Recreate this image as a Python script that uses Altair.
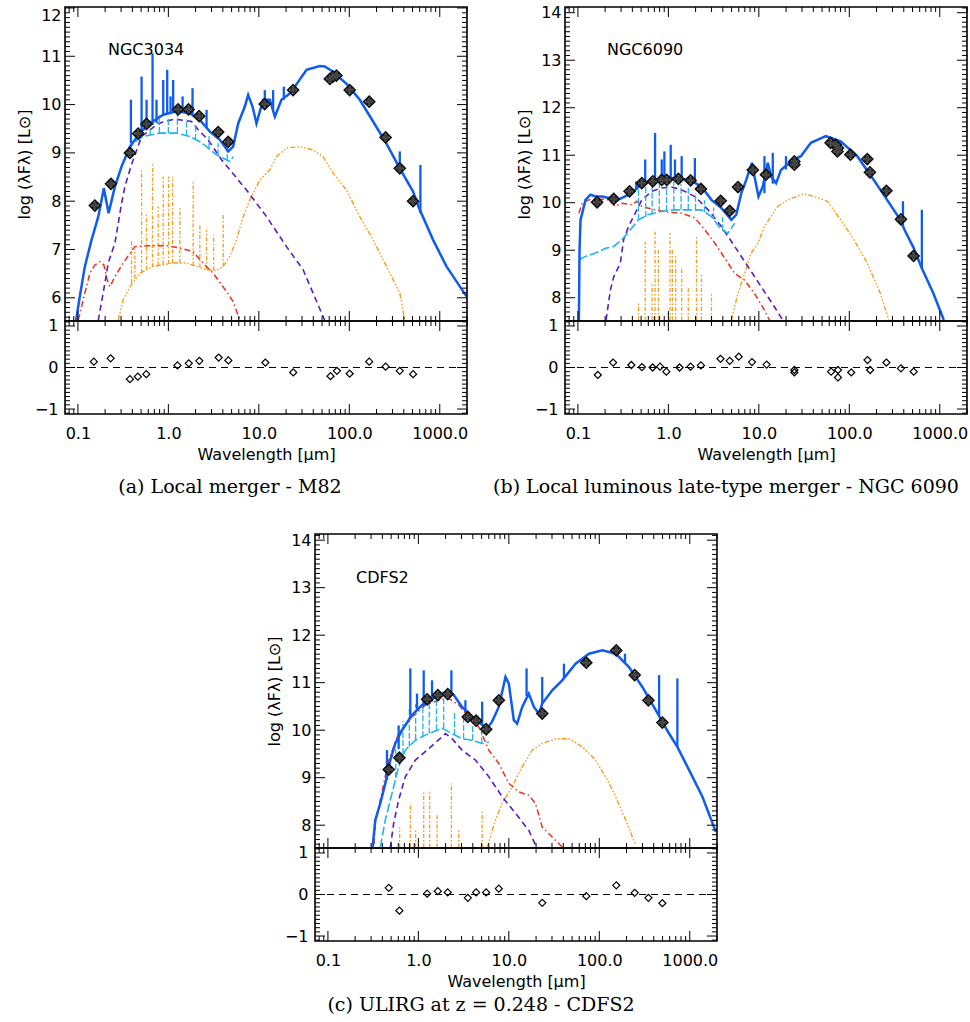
import math
import altair as alt
import pandas as pd

# ------------------------------------------------------------------
# Shared axis settings
# ------------------------------------------------------------------
XDOM = [0.072, 2000.0]
RDOM = [-1.12, 1.12]
X_MAJOR = [0.1, 1.0, 10.0, 100.0, 1000.0]
X_MINOR = [m * d for d in (0.01, 0.1, 1, 10, 100, 1000) for m in range(2, 10)
           if XDOM[0] <= m * d <= XDOM[1]]
YTITLE = "log (λFλ) [L⊙]"
XTITLE = "Wavelength [µm]"

# ------------------------------------------------------------------
# Panel (a) NGC3034 (M82)   -- curves: (log10 wavelength[um], log L)
# ------------------------------------------------------------------
A_NAME = "NGC3034"
A_CAPTION = "(a) Local merger - M82"
A_OBS_LAM = [0.154, 0.232, 0.376, 0.463, 0.574, 1.28, 1.67, 2.19, 3.55, 4.58,
             11.6, 23.9, 61, 66, 72, 101, 166, 252, 361, 507]
A_OBS_VAL = [7.91, 8.36, 9.00, 9.40, 9.60, 9.90, 9.90, 9.76, 9.43, 9.23,
             10.01, 10.30, 10.53, 10.58, 10.60, 10.30, 10.06, 9.32, 8.68, 8.00]
A_RES_LAM = [0.15, 0.23, 0.376, 0.46, 0.57, 1.26, 1.68, 2.2, 3.6, 4.6,
             11.8, 24, 62, 73, 101, 166, 252, 361, 507]
A_RES_VAL = [0.14, 0.22, -0.28, -0.22, -0.16, 0.05, 0.10, 0.16, 0.24, 0.17,
             0.12, -0.12, -0.21, -0.08, -0.15, 0.14, 0.02, -0.08, -0.16]
A_BLUE = [(-1.02, 5.53), (-0.985, 5.96), (-0.923, 6.65), (-0.849, 7.2), (-0.775, 7.68),
          (-0.713, 8.27), (-0.661, 7.75), (-0.591, 8.30), (-0.517, 8.72), (-0.425, 9.13),
          (-0.315, 9.41), (-0.204, 9.61), (-0.057, 9.79), (0.090, 9.86), (0.238, 9.82),
          (0.348, 9.68), (0.459, 9.44), (0.569, 9.27), (0.661, 9.03), (0.716, 9.13),
          (0.772, 9.61), (0.845, 9.96), (0.882, 10.2), (0.930, 9.96), (0.974, 9.61),
          (1.048, 10.10), (1.122, 10.10), (1.177, 9.75), (1.250, 10.10), (1.343, 10.23),
          (1.379, 10.32), (1.527, 10.72), (1.674, 10.80), (1.729, 10.79), (1.821, 10.68),
          (1.969, 10.43), (2.116, 10.10), (2.263, 9.65), (2.411, 9.19), (2.558, 8.68),
          (2.705, 8.20), (2.771, 7.86), (2.926, 7.20), (3.074, 6.65), (3.295, 6.03)]
A_BLUE_SPIKES = [(-0.414, 9.20, 10.10), (-0.296, 9.37, 10.58), (-0.241, 9.50, 10.10),
                 (-0.175, 9.58, 11.06), (-0.131, 9.62, 10.10), (-0.057, 9.79, 10.51),
                 (-0.013, 9.81, 10.72), (0.024, 9.82, 10.17), (0.053, 9.83, 10.51),
                 (0.157, 9.85, 10.17), (0.267, 9.80, 10.34), (0.422, 9.52, 9.89),
                 (1.066, 10.0, 10.30), (1.158, 9.9, 10.30), (1.276, 10.1, 10.37),
                 (2.558, 8.68, 9.03), (2.786, 7.75, 8.75)]
A_CYAN = [(-0.444, 9.03), (-0.389, 9.20), (-0.278, 9.34), (-0.094, 9.41), (0.090, 9.41),
          (0.238, 9.34), (0.348, 9.23), (0.422, 9.13), (0.532, 8.96), (0.680, 8.82),
          (0.716, 8.92)]
A_CYAN_SPIKES = [(-0.30, 9.34, 9.62), (-0.2, 9.38, 9.7), (-0.1, 9.41, 9.78), (0.0, 9.41, 9.75),
                 (0.1, 9.41, 9.8), (0.2, 9.36, 9.7), (0.3, 9.27, 9.6), (0.45, 9.1, 9.35),
                 (0.55, 8.95, 9.2), (0.65, 8.85, 9.15)]
A_PURPLE = [(-0.775, 5.53), (-0.702, 6.30), (-0.665, 6.72), (-0.591, 7.13), (-0.517, 7.96),
            (-0.481, 8.30), (-0.425, 8.65), (-0.389, 8.86), (-0.296, 9.34), (-0.112, 9.61),
            (0.072, 9.70), (0.256, 9.65), (0.330, 9.48), (0.440, 9.27), (0.587, 8.86),
            (0.680, 8.65), (0.864, 8.23), (1.085, 7.68), (1.306, 7.06), (1.490, 6.58),
            (1.729, 5.53)]
A_RED = [(-0.996, 5.54), (-0.923, 6.10), (-0.867, 6.51), (-0.812, 6.68), (-0.757, 6.75),
         (-0.713, 6.68), (-0.676, 6.37), (-0.646, 6.23), (-0.591, 6.44), (-0.499, 6.72),
         (-0.425, 6.92), (-0.370, 7.06), (-0.204, 7.08), (-0.020, 7.08), (0.127, 7.03),
         (0.274, 6.96), (0.348, 6.79), (0.495, 6.51), (0.643, 6.13), (0.716, 5.92),
         (0.790, 5.54)]
A_ORANGE = [(-0.554, 5.54), (-0.499, 5.96), (-0.425, 6.23), (-0.315, 6.51), (-0.168, 6.65),
            (0.053, 6.72), (0.201, 6.72), (0.311, 6.65), (0.422, 6.58), (0.532, 6.57),
            (0.606, 6.65), (0.680, 6.86), (0.753, 7.20), (0.827, 7.68), (0.901, 8.03),
            (1.011, 8.44), (1.122, 8.65), (1.195, 8.92), (1.306, 9.10), (1.453, 9.13),
            (1.600, 9.06), (1.711, 8.92), (1.821, 8.58), (1.969, 8.23), (2.116, 7.68),
            (2.263, 7.20), (2.411, 6.65), (2.558, 6.10), (2.613, 5.54)]
A_ORANGE_SPIKES = [(-0.407, 6.3, 7.2), (-0.37, 6.4, 7.0), (-0.296, 6.52, 8.68),
                   (-0.241, 6.58, 7.75), (-0.175, 6.64, 8.79), (-0.112, 6.67, 7.89),
                   (-0.057, 6.69, 8.51), (0.002, 6.7, 8.51), (0.046, 6.72, 8.51),
                   (0.127, 6.72, 7.89), (0.274, 6.67, 8.41), (0.348, 6.63, 7.54),
                   (0.422, 6.58, 7.41), (0.50, 6.57, 7.3), (0.606, 6.65, 7.72)]

# ------------------------------------------------------------------
# Panel (b) NGC6090
# ------------------------------------------------------------------
B_NAME = "NGC6090"
B_CAPTION = "(b) Local luminous late-type merger - NGC 6090"
B_OBS_LAM = [0.163, 0.249, 0.372, 0.509, 0.673, 0.845, 0.96, 1.29, 1.76, 2.29,
             3.79, 4.76, 5.88, 8.59, 12.0, 24.7, 24.7, 62, 71, 74, 75, 103, 158,
             169, 257, 372, 514]
B_OBS_VAL = [10.01, 10.08, 10.24, 10.41, 10.45, 10.48, 10.48, 10.50, 10.47, 10.29,
             10.04, 9.83, 10.33, 10.69, 10.59, 10.87, 10.80, 11.26, 11.22, 11.08, 11.15,
             11.01, 10.92, 10.64, 10.25, 9.65, 8.88]
B_RES_LAM = [0.166, 0.245, 0.39, 0.51, 0.67, 0.81, 0.95, 1.33, 1.76, 2.29, 3.77, 4.76,
             6.0, 8.4, 12.2, 24.7, 24.7, 63, 75, 75, 105, 159, 170, 257, 372, 515]
B_RES_VAL = [-0.18, 0.12, 0.06, 0.01, 0.0, 0.02, -0.10, 0.0, 0.02, 0.05, 0.21, 0.16,
             0.26, 0.13, 0.07, -0.06, -0.12, -0.10, -0.06, -0.24, -0.12, 0.18, -0.06,
             0.12, -0.02, -0.10]
B_BLUE = [(-0.989, 7.53), (-0.982, 9.01), (-0.971, 9.64), (-0.952, 9.78), (-0.916, 10.06),
          (-0.861, 10.17), (-0.806, 10.13), (-0.733, 10.13), (-0.659, 10.10), (-0.593, 10.03),
          (-0.513, 10.10), (-0.440, 10.17), (-0.366, 10.27), (-0.293, 10.40), (-0.183, 10.47),
          (-0.037, 10.52), (0.110, 10.52), (0.256, 10.46), (0.366, 10.34), (0.476, 10.06),
          (0.586, 9.89), (0.696, 9.64), (0.751, 9.75), (0.806, 10.20), (0.861, 10.48),
          (0.923, 10.84), (0.952, 10.55), (0.996, 10.13), (1.044, 10.34), (1.099, 10.84),
          (1.136, 10.55), (1.191, 10.41), (1.245, 10.69), (1.355, 10.87), (1.465, 10.98),
          (1.575, 11.26), (1.740, 11.40), (1.905, 11.29), (2.088, 10.98), (2.271, 10.48),
          (2.418, 10.06), (2.564, 9.64), (2.610, 9.43), (2.711, 9.05), (2.802, 8.62),
          (2.930, 8.09), (3.045, 7.53)]
B_BLUE_SPIKES = [(-0.355, 10.27, 10.45), (-0.256, 10.38, 10.91), (-0.147, 10.45, 11.47),
                 (-0.073, 10.50, 10.91), (-0.044, 10.50, 11.08), (0.026, 10.52, 11.22),
                 (0.073, 10.52, 10.91), (0.147, 10.51, 10.98), (0.293, 10.42, 10.94),
                 (1.062, 10.2, 10.98), (1.154, 10.4, 11.05), (1.300, 10.7, 10.98),
                 (2.593, 9.50, 10.03), (2.802, 8.62, 9.85)]
B_CYAN = [(-0.989, 8.80), (-0.916, 8.87), (-0.806, 8.94), (-0.696, 9.04), (-0.604, 9.08),
          (-0.513, 9.22), (-0.421, 9.43), (-0.330, 9.64), (-0.220, 9.75), (-0.073, 9.82),
          (0.073, 9.85), (0.220, 9.85), (0.366, 9.85), (0.476, 9.71), (0.586, 9.43),
          (0.659, 9.36), (0.733, 9.57)]
B_CYAN_SPIKES = [(-0.33, 9.64, 10.45), (-0.25, 9.70, 10.35), (-0.18, 9.75, 10.45),
                 (-0.10, 9.8, 10.4), (-0.02, 9.82, 10.45), (0.06, 9.85, 10.45),
                 (0.14, 9.85, 10.40), (0.22, 9.85, 10.35), (0.30, 9.85, 10.2),
                 (0.40, 9.80, 10.05), (0.5, 9.65, 9.9), (0.6, 9.42, 9.7)]
B_PURPLE = [(-0.689, 7.53), (-0.641, 8.16), (-0.604, 8.44), (-0.568, 8.58), (-0.531, 8.73),
            (-0.495, 9.22), (-0.440, 9.50), (-0.385, 9.71), (-0.293, 10.06), (-0.183, 10.24),
            (-0.073, 10.31), (0.037, 10.33), (0.147, 10.27), (0.293, 10.13), (0.440, 9.85),
            (0.586, 9.50), (0.733, 9.08), (0.879, 8.66), (1.026, 8.23), (1.172, 7.81),
            (1.264, 7.53)]
B_RED = [(-0.989, 9.78), (-0.952, 9.99), (-0.879, 10.06), (-0.769, 10.08), (-0.659, 10.06),
         (-0.586, 9.92), (-0.513, 9.99), (-0.403, 9.96), (-0.348, 10.03), (-0.293, 9.92),
         (-0.147, 9.85), (0.0, 9.80), (0.147, 9.78), (0.293, 9.68), (0.403, 9.43),
         (0.513, 9.15), (0.659, 8.73), (0.733, 8.51), (0.842, 8.37), (0.952, 8.09),
         (1.062, 7.74), (1.117, 7.53)]
B_ORANGE = [(0.696, 7.53), (0.769, 8.09), (0.842, 8.51), (0.916, 8.94), (0.989, 9.15),
            (1.062, 9.50), (1.136, 9.71), (1.209, 9.92), (1.319, 10.06), (1.502, 10.19),
            (1.612, 10.13), (1.758, 10.03), (1.905, 9.64), (2.051, 9.22), (2.198, 8.73),
            (2.344, 8.09), (2.436, 7.53)]
B_ORANGE_SPIKES = [(-0.33, 7.52, 7.9), (-0.256, 7.52, 9.18), (-0.18, 7.52, 8.3),
                   (-0.147, 7.52, 9.39), (-0.110, 7.52, 9.0), (0.018, 7.52, 9.36),
                   (0.044, 7.52, 9.0), (0.081, 7.52, 8.9), (0.147, 7.52, 8.6),
                   (0.22, 7.52, 8.2), (0.311, 7.52, 9.29), (0.366, 7.52, 8.5),
                   (0.476, 7.52, 8.1)]

# ------------------------------------------------------------------
# Panel (c) CDFS2
# ------------------------------------------------------------------
C_NAME = "CDFS2"
C_CAPTION = "(c) ULIRG at z = 0.248 - CDFS2"
C_OBS_LAM = [0.470, 0.617, 1.25, 1.64, 2.11, 3.52, 4.35, 5.61, 7.75, 23.4, 71.8,
             154, 246, 349, 498]
C_OBS_VAL = [9.17, 9.42, 10.65, 10.74, 10.76, 10.28, 10.20, 10.02, 10.63, 10.35,
             11.42, 11.68, 11.16, 10.63, 10.16]
C_RES_LAM = [0.470, 0.617, 1.25, 1.64, 2.11, 3.52, 4.35, 5.61, 7.75, 23.4, 71.8,
             154, 246, 349, 498]
C_RES_VAL = [0.16, -0.39, 0.02, 0.08, 0.05, -0.08, 0.05, 0.05, 0.14, -0.20, -0.04,
             0.22, 0.04, -0.08, -0.21]
C_BLUE = [(-0.506, 7.53), (-0.476, 8.11), (-0.421, 8.46), (-0.365, 8.88), (-0.310, 9.37),
          (-0.255, 9.72), (-0.181, 10.0), (-0.070, 10.32), (0.041, 10.53), (0.188, 10.70),
          (0.317, 10.81), (0.391, 10.74), (0.483, 10.49), (0.594, 10.28), (0.686, 10.14),
          (0.760, 10.04), (0.815, 10.18), (0.889, 10.49), (0.963, 11.12), (1.0, 10.98),
          (1.055, 10.21), (1.092, 10.14), (1.148, 10.49), (1.221, 10.77), (1.277, 10.49),
          (1.332, 10.35), (1.369, 10.56), (1.480, 10.84), (1.590, 11.05), (1.738, 11.40),
          (1.886, 11.61), (2.033, 11.68), (2.181, 11.61), (2.328, 11.33), (2.476, 10.91),
          (2.624, 10.42), (2.771, 9.93), (2.863, 9.65), (2.993, 9.16), (3.140, 8.60),
          (3.288, 7.86)]
C_BLUE_SPIKES = [(-0.347, 8.95, 9.58), (-0.218, 9.6, 10.1), (-0.089, 10.25, 11.30),
                 (-0.015, 10.4, 10.77), (0.059, 10.5, 11.26), (0.151, 10.6, 11.05),
                 (0.365, 10.72, 11.26), (0.520, 10.38, 10.63), (0.705, 10.1, 10.60),
                 (1.196, 10.72, 11.30), (1.369, 10.56, 11.12), (1.609, 11.08, 11.40),
                 (2.284, 11.40, 11.61), (2.661, 10.30, 11.16), (2.863, 9.65, 11.09)]
C_CYAN = [(-0.421, 7.53), (-0.365, 8.11), (-0.292, 8.67), (-0.218, 9.23), (-0.144, 9.58),
          (-0.033, 9.79), (0.114, 9.93), (0.262, 10.04), (0.373, 9.93), (0.483, 9.82),
          (0.594, 9.79), (0.705, 9.72), (0.779, 9.75)]
C_CYAN_SPIKES = [(-0.25, 9.0, 9.6), (-0.17, 9.5, 10.2), (-0.1, 9.65, 10.5), (-0.03, 9.8, 10.55),
                 (0.05, 9.85, 10.6), (0.12, 9.93, 10.7), (0.2, 10.0, 10.65), (0.28, 10.04, 10.7),
                 (0.4, 9.9, 10.4), (0.5, 9.82, 10.3), (0.6, 9.79, 10.1), (0.7, 9.72, 10.0)]
C_PURPLE = [(-0.310, 7.53), (-0.273, 8.04), (-0.218, 8.53), (-0.144, 9.02), (-0.033, 9.37),
            (0.114, 9.61), (0.262, 9.86), (0.299, 9.93), (0.373, 9.82), (0.483, 9.58),
            (0.631, 9.37), (0.779, 9.02), (0.926, 8.60), (1.074, 8.25), (1.221, 7.89),
            (1.295, 7.58)]
C_RED = [(-0.49, 7.6), (-0.476, 8.04), (-0.421, 8.53), (-0.328, 9.37), (-0.218, 9.93),
         (-0.070, 10.28), (0.077, 10.53), (0.225, 10.63), (0.336, 10.67), (0.446, 10.53),
         (0.557, 10.28), (0.668, 10.07), (0.779, 9.58), (0.889, 9.30), (1.0, 8.88),
         (1.111, 8.70), (1.221, 8.63), (1.295, 8.46), (1.369, 7.96), (1.480, 7.75),
         (1.590, 7.54)]
C_ORANGE = [(0.760, 7.53), (0.852, 8.11), (0.926, 8.46), (1.037, 8.81), (1.148, 9.23),
            (1.258, 9.58), (1.369, 9.72), (1.517, 9.82), (1.664, 9.82), (1.812, 9.65),
            (1.959, 9.37), (2.070, 9.02), (2.181, 8.60), (2.292, 8.11), (2.402, 7.58)]
C_ORANGE_SPIKES = [(-0.207, 7.53, 7.96), (-0.089, 7.53, 8.46), (-0.03, 7.53, 7.9),
                   (0.059, 7.53, 8.70), (0.125, 7.53, 8.74), (0.207, 7.53, 8.21),
                   (0.365, 7.53, 8.88), (0.446, 7.53, 7.9), (0.705, 7.53, 8.32)]

# ------------------------------------------------------------------
# Layout (pixel boxes of each panel) and styles
# ------------------------------------------------------------------
W_ALL, H_ALL = 970, 1022
PA = dict(x0=65, x1=467, top=7, mid=321, bot=414, ydom=[5.52, 12.02],
          ymaj=[6, 7, 8, 9, 10, 11, 12], name_xy=(108, 50), cap_xy=(230, 487))
PB = dict(x0=565, x1=967, top=7, mid=321, bot=414, ydom=[7.51, 14.12],
          ymaj=[8, 9, 10, 11, 12, 13, 14], name_xy=(607, 50), cap_xy=(726, 487))
PC = dict(x0=315, x1=717, top=534, mid=848, bot=941, ydom=[7.52, 14.13],
          ymaj=[8, 9, 10, 11, 12, 13, 14], name_xy=(356, 578), cap_xy=(481, 1005))

BLUE = "#0f5cf2"
CYAN = "#1eb4ef"
PURPLE = "#5a1cc4"
RED = "#f0301e"
ORANGE = "#ff9a14"
AXF = "DejaVu Sans"
SERIF = "DejaVu Serif"
FS = 16


def xsc(P):
    return alt.Scale(type="log", domain=XDOM, range=[P["x0"], P["x1"]], nice=False)


def ysc(P):
    return alt.Scale(type="linear", domain=P["ydom"], range=[P["mid"], P["top"]],
                     nice=False, zero=False)


def rsc(P):
    return alt.Scale(type="linear", domain=RDOM, range=[P["bot"], P["mid"]],
                     nice=False, zero=False)


def curve(P, pts, color, width, dash=None):
    df = pd.DataFrame({"lam": [10 ** p[0] for p in pts], "v": [p[1] for p in pts],
                       "o": list(range(len(pts)))})
    kw = dict(color=color, strokeWidth=width)
    if dash:
        kw["strokeDash"] = dash
    return alt.Chart(df).mark_line(**kw).encode(
        x=alt.X("lam:Q", scale=xsc(P), axis=None),
        y=alt.Y("v:Q", scale=ysc(P), axis=None),
        order="o:Q")


def spikes(P, sp, color, width, dash=None):
    df = pd.DataFrame({"lam": [10 ** s[0] for s in sp], "v": [s[1] for s in sp],
                       "v2": [s[2] for s in sp]})
    kw = dict(color=color, strokeWidth=width)
    if dash:
        kw["strokeDash"] = dash
    return alt.Chart(df).mark_rule(**kw).encode(
        x=alt.X("lam:Q", scale=xsc(P), axis=None),
        y=alt.Y("v:Q", scale=ysc(P), axis=None),
        y2="v2:Q")


def xticks(P, vals, y0, length):
    df = pd.DataFrame({"t": vals})
    return alt.Chart(df).mark_rule(color="black", strokeWidth=1).encode(
        x=alt.X("t:Q", scale=xsc(P), axis=None),
        y=alt.value(y0), y2=alt.value(y0 + length))


def yticks(P, vals, scale, x0, length):
    df = pd.DataFrame({"t": vals})
    return alt.Chart(df).mark_rule(color="black", strokeWidth=1).encode(
        y=alt.Y("t:Q", scale=scale, axis=None),
        x=alt.value(x0), x2=alt.value(x0 + length))


def minor_between(lo, hi):
    return [v / 10 for v in range(math.ceil(lo * 10), math.floor(hi * 10) + 1) if v % 10 != 0]


def panel(P, name, caption, obs_lam, obs_val, res_lam, res_val,
          blue, blue_sp, cyan, cyan_sp, purple, red, orange, orange_sp):
    L = []
    # model components
    L.append(curve(P, orange, ORANGE, 1.4, [5, 2, 1.5, 2, 1.5, 2, 1.5, 2]))
    L.append(spikes(P, orange_sp, ORANGE, 1.3, [4, 2, 1.5, 2]))
    L.append(curve(P, red, RED, 1.5, [6, 3, 1.5, 3]))
    L.append(curve(P, purple, PURPLE, 1.6, [6, 4]))
    L.append(curve(P, cyan, CYAN, 1.6, [9, 3]))
    L.append(spikes(P, cyan_sp, CYAN, 1.3, [6, 2]))
    L.append(curve(P, blue, BLUE, 2.5))
    L.append(spikes(P, blue_sp, BLUE, 2.3))

    # observed photometry
    obs = pd.DataFrame({"lam": obs_lam, "v": obs_val})
    ob = alt.Chart(obs).encode(x=alt.X("lam:Q", scale=xsc(P), axis=None),
                               y=alt.Y("v:Q", scale=ysc(P), axis=None))
    L.append(ob.mark_point(shape="diamond", filled=False, color="#111111", strokeWidth=1.8,
                           size=115, opacity=1))
    L.append(ob.mark_point(shape="cross", filled=True, color="#111111", size=70, angle=45,
                           opacity=1))
    L.append(ob.mark_point(shape="cross", filled=True, color="#444444", size=55, opacity=1))

    # residuals
    res = pd.DataFrame({"lam": res_lam, "r": res_val})
    L.append(alt.Chart(res).mark_point(shape="diamond", filled=False, color="black",
                                       strokeWidth=1.2, size=50, opacity=1).encode(
        x=alt.X("lam:Q", scale=xsc(P), axis=None),
        y=alt.Y("r:Q", scale=rsc(P), axis=None)))
    zero = pd.DataFrame({"xa": [XDOM[0]], "xb": [XDOM[1]], "z": [0.0]})
    L.append(alt.Chart(zero).mark_rule(color="black", strokeDash=[7, 5], strokeWidth=1.2).encode(
        x=alt.X("xa:Q", scale=xsc(P), axis=None), x2="xb:Q",
        y=alt.Y("z:Q", scale=rsc(P), axis=None)))

    # inward tick marks (IDL style) on all sides of both boxes
    for ytop, ybot in ((P["top"], P["mid"]), (P["mid"], P["bot"])):
        L.append(xticks(P, X_MAJOR, ytop, 10))
        L.append(xticks(P, X_MINOR, ytop, 5))
        L.append(xticks(P, X_MAJOR, ybot, -10))
        L.append(xticks(P, X_MINOR, ybot, -5))
    ymin = minor_between(*P["ydom"])
    rmaj = [-1, 0, 1]
    rmin = minor_between(*RDOM)
    for sc, maj, mnr in ((ysc(P), P["ymaj"], ymin), (rsc(P), rmaj, rmin)):
        L.append(yticks(P, maj, sc, P["x0"], 10))
        L.append(yticks(P, mnr, sc, P["x0"], 5))
        L.append(yticks(P, maj, sc, P["x1"], -10))
        L.append(yticks(P, mnr, sc, P["x1"], -5))

    # frames carrying the axes
    main_axis = alt.Axis(orient="left", offset=-P["x0"], values=P["ymaj"], format="d",
                         ticks=False, domain=False, grid=False, labelOverlap=False,
                         labelFlush=3,
                         labelFont=AXF, labelFontSize=FS, labelColor="black", labelPadding=4,
                         title=YTITLE, titleFont=AXF, titleFontSize=FS,
                         titleFontWeight="normal", titleColor="black", titlePadding=8)
    fm = pd.DataFrame({"xa": [XDOM[0]], "xb": [XDOM[1]], "ya": [P["ydom"][0]],
                       "yb": [P["ydom"][1]]})
    L.append(alt.Chart(fm).mark_rect(fillOpacity=0, stroke="black", strokeWidth=1.6).encode(
        x=alt.X("xa:Q", scale=xsc(P), axis=None), x2="xb:Q",
        y=alt.Y("ya:Q", scale=ysc(P), axis=main_axis), y2="yb:Q"))

    res_yaxis = alt.Axis(orient="left", offset=-P["x0"], values=rmaj, format="d",
                         ticks=False, domain=False, grid=False, labelOverlap=False,
                         labelFont=AXF, labelFontSize=FS, labelColor="black", labelPadding=7,
                         title="")
    res_xaxis = alt.Axis(orient="bottom", offset=P["bot"] - H_ALL, values=X_MAJOR,
                         labelExpr="format(datum.value, '.1f')",
                         ticks=False, domain=False, grid=False, labelOverlap=False,
                         labelFont=AXF, labelFontSize=FS, labelColor="black", labelPadding=11,
                         title=XTITLE, titleFont=AXF, titleFontSize=FS,
                         titleFontWeight="normal", titleColor="black", titlePadding=5)
    fr = pd.DataFrame({"xa": [XDOM[0]], "xb": [XDOM[1]], "ya": [RDOM[0]], "yb": [RDOM[1]]})
    L.append(alt.Chart(fr).mark_rect(fillOpacity=0, stroke="black", strokeWidth=1.6).encode(
        x=alt.X("xa:Q", scale=xsc(P), axis=res_xaxis), x2="xb:Q",
        y=alt.Y("ya:Q", scale=rsc(P), axis=res_yaxis), y2="yb:Q"))

    # object name and sub-figure caption
    L.append(alt.Chart(pd.DataFrame({"s": [name]})).mark_text(
        align="left", baseline="middle", font=AXF, fontSize=16, color="black").encode(
        x=alt.value(P["name_xy"][0]), y=alt.value(P["name_xy"][1]), text="s:N"))
    L.append(alt.Chart(pd.DataFrame({"s": [caption]})).mark_text(
        align="center", baseline="middle", font=SERIF, fontSize=19, color="black").encode(
        x=alt.value(P["cap_xy"][0]), y=alt.value(P["cap_xy"][1]), text="s:N"))
    return L


layers = []
layers += panel(PA, A_NAME, A_CAPTION, A_OBS_LAM, A_OBS_VAL, A_RES_LAM, A_RES_VAL,
                A_BLUE, A_BLUE_SPIKES, A_CYAN, A_CYAN_SPIKES, A_PURPLE, A_RED,
                A_ORANGE, A_ORANGE_SPIKES)
layers += panel(PB, B_NAME, B_CAPTION, B_OBS_LAM, B_OBS_VAL, B_RES_LAM, B_RES_VAL,
                B_BLUE, B_BLUE_SPIKES, B_CYAN, B_CYAN_SPIKES, B_PURPLE, B_RED,
                B_ORANGE, B_ORANGE_SPIKES)
layers += panel(PC, C_NAME, C_CAPTION, C_OBS_LAM, C_OBS_VAL, C_RES_LAM, C_RES_VAL,
                C_BLUE, C_BLUE_SPIKES, C_CYAN, C_CYAN_SPIKES, C_PURPLE, C_RED,
                C_ORANGE, C_ORANGE_SPIKES)

chart = alt.layer(*layers).resolve_scale(x="independent", y="independent").properties(
    width=W_ALL, height=H_ALL, padding=0,
    autosize=alt.AutoSizeParams(type="none"),
    background="white",
).configure_view(stroke="transparent")

chart.save("out.html", embed_options={"renderer": "svg", "actions": False})
